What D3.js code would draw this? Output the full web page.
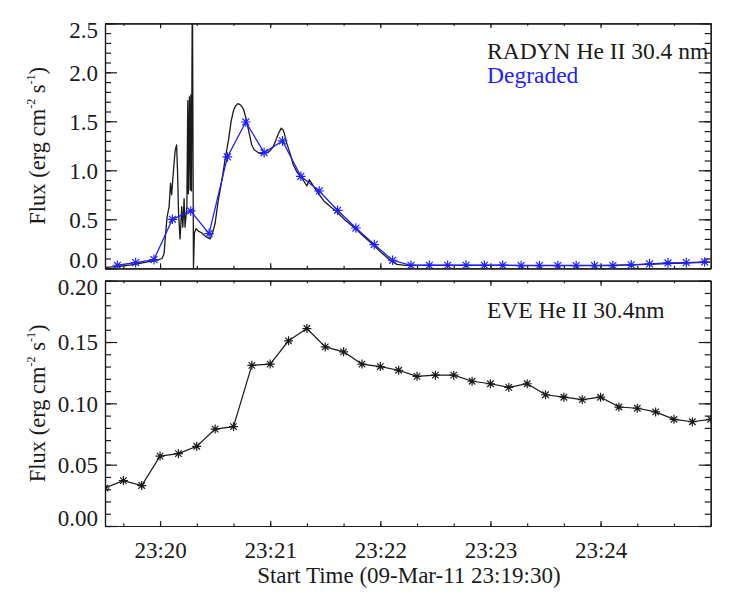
<!DOCTYPE html>
<html>
<head>
<meta charset="utf-8">
<script src="https://cdn.jsdelivr.net/npm/d3@7"></script>
<style>
  body { margin: 0; background: #fff; }
</style>
</head>
<body>
<div id="chart-area"></div>
<script>
// seconds after 23:19:30
const radynTime = [0, 8.2, 16.4, 24.5, 28.9, 31.1, 32.2, 33.0, 33.8, 34.6, 34.9, 35.7, 36.3, 37.1, 38.2, 39.0, 39.5,
  40.1, 40.9, 41.8, 42.4, 43.1, 43.6, 44.6, 45.1, 45.4, 46.0, 46.4, 46.8, 47.1, 47.6, 48.2, 48.7, 49.6, 50.9,
  52.8, 54.5, 56.2, 57.3, 58.9, 60.0, 61.6, 63.7, 65.5, 67.3, 68.7, 70.0, 71.2, 72.4, 73.6, 74.6, 75.5, 76.4,
  78.2, 80.0, 81.3, 82.8, 84.5, 86.4, 88.4, 90.0, 91.6, 92.7, 94.4, 96.0, 97.1, 97.8, 99.1, 100.9, 102.5,
  104.6, 107.3, 110.0, 111.3, 112.9, 114.5, 119.1, 122.7, 126.4, 130.9, 136.4, 141.3, 146.4, 151.1, 155.5,
  159.1, 163.6, 166.4, 188.2, 215.5, 242.7, 270.0, 286.4, 302.7, 319.1, 330];
const radynFlux = [0.01, 0.02, 0.04, 0.07, 0.085, 0.10, 0.15, 0.35, 0.52, 0.60, 0.62, 0.87, 0.75, 0.95, 1.20, 1.26, 1.00,
  0.55, 0.30, 0.63, 0.42, 0.71, 0.42, 0.63, 1.71, 0.76, 1.75, 0.80, 1.77, 0.79, 3.00, 0.00, 0.36, 0.405, 0.38,
  0.36, 0.33, 0.31, 0.30, 0.38, 0.46, 0.68, 0.90, 1.12, 1.31, 1.50, 1.61, 1.66, 1.68, 1.67, 1.65, 1.62, 1.56,
  1.41, 1.255, 1.21, 1.19, 1.17, 1.17, 1.18, 1.20, 1.24, 1.29, 1.37, 1.43, 1.41, 1.37, 1.27, 1.17, 1.06,
  0.98, 0.92, 0.84, 0.905, 0.86, 0.81, 0.69, 0.63, 0.575, 0.49, 0.405, 0.32, 0.235, 0.15, 0.08,
  0.04, 0.03, 0.03, 0.03, 0.03, 0.03, 0.03, 0.035, 0.045, 0.055, 0.062];

const degradedTime = [6.7, 16.7, 26.7, 36.7, 46.7, 56.7, 66.7, 76.7, 86.7, 96.7, 106.7, 116.7, 126.7, 136.7, 146.7,
  156.7, 166.7, 176.7, 186.7, 196.7, 206.7, 216.7, 226.7, 236.7, 246.7, 256.7, 266.7, 276.7, 286.7, 296.7,
  306.7, 316.7, 326.7];
const degradedFlux = [0.031, 0.058, 0.089, 0.50, 0.585, 0.354, 1.136, 1.493, 1.18, 1.30, 0.939, 0.789, 0.592, 0.411,
  0.242, 0.082, 0.031, 0.031, 0.031, 0.031, 0.031, 0.031, 0.028, 0.028, 0.028, 0.028, 0.028, 0.028, 0.035,
  0.045, 0.055, 0.058, 0.065];

const eveTime = [0, 10, 20, 30, 40, 50, 60, 70, 80, 90, 100, 110, 120, 130, 140, 150, 160, 170, 180, 190, 200,
  210, 220, 230, 240, 250, 260, 270, 280, 290, 300, 310, 320, 330];
const eveFlux = [0.031, 0.037, 0.033, 0.057, 0.059, 0.065, 0.079, 0.081, 0.131, 0.132, 0.151, 0.161, 0.146, 0.142,
  0.132, 0.130, 0.127, 0.122, 0.123, 0.123, 0.118, 0.116, 0.113, 0.116, 0.107, 0.105, 0.103, 0.105, 0.097,
  0.096, 0.093, 0.087, 0.085, 0.087];

const xTickValues = [30, 90, 150, 210, 270];
const xTickLabels = ["23:20", "23:21", "23:22", "23:23", "23:24"];
const yTicksTop = [0, 0.5, 1.0, 1.5, 2.0, 2.5];
const yTicksBottom = [0, 0.05, 0.10, 0.15, 0.20];

const svgWidth = 747, svgHeight = 598;
const plotLeft = 105, plotRight = 710.7;
const font = "'Liberation Serif', 'DejaVu Serif', serif";
const ink = "#1a1a1a";
const blue = "#1f1fff";

const svg = d3.select("#chart-area")
  .append("svg")
    .attr("width", svgWidth)
    .attr("height", svgHeight);

const x = d3.scaleLinear().domain([0, 330]).range([plotLeft, plotRight]);
const yTop = d3.scaleLinear().domain([0, 2.5]).range([268.3, 23.3]);
const yBot = d3.scaleLinear().domain([0, 0.2]).range([526, 280.7]);

const star = (r) => {
  const d = r * 0.72;
  return `M${-r},0H${r}M0,${-r}V${r}M${-d},${-d}L${d},${d}M${-d},${d}L${d},${-d}`;
};

function drawPanel(y, yTicks, yFmt, yMinorStep, showLabels, id) {
  const [y0, y1] = y.range();
  const g = svg.append("g");

  svg.append("clipPath").attr("id", id)
    .append("rect")
      .attr("x", plotLeft).attr("y", y1)
      .attr("width", plotRight - plotLeft).attr("height", y0 - y1);

  const yMinor = d3.range(y.domain()[0], y.domain()[1] + yMinorStep / 2, yMinorStep);
  const xMinor = d3.range(10, 331, 20);

  const styleAxis = (sel) => {
    sel.attr("font-family", font).attr("font-size", 23);
    sel.selectAll("path, line").attr("stroke", ink).attr("stroke-width", 1.2);
    sel.selectAll("text").attr("fill", ink);
  };

  // minor ticks
  g.append("g").attr("transform", `translate(0,${y0})`)
    .call(d3.axisBottom(x).tickValues(xMinor).tickSize(-2.5).tickSizeOuter(0).tickFormat(""))
    .call(styleAxis);
  g.append("g").attr("transform", `translate(0,${y1})`)
    .call(d3.axisTop(x).tickValues(xMinor).tickSize(-2.5).tickSizeOuter(0).tickFormat(""))
    .call(styleAxis);
  g.append("g").attr("transform", `translate(${plotLeft},0)`)
    .call(d3.axisLeft(y).tickValues(yMinor).tickSize(-6).tickSizeOuter(0).tickFormat(""))
    .call(styleAxis);
  g.append("g").attr("transform", `translate(${plotRight},0)`)
    .call(d3.axisRight(y).tickValues(yMinor).tickSize(-6).tickSizeOuter(0).tickFormat(""))
    .call(styleAxis);

  // major ticks
  g.append("g").attr("transform", `translate(0,${y0})`)
    .call(d3.axisBottom(x).tickValues(xTickValues).tickSize(-5).tickSizeOuter(0).tickPadding(16)
      .tickFormat((d, i) => showLabels ? xTickLabels[i] : ""))
    .call(styleAxis);
  g.append("g").attr("transform", `translate(0,${y1})`)
    .call(d3.axisTop(x).tickValues(xTickValues).tickSize(-5).tickSizeOuter(0).tickFormat(""))
    .call(styleAxis);
  const leftAxis = g.append("g").attr("transform", `translate(${plotLeft},0)`)
    .call(d3.axisLeft(y).tickValues(yTicks).tickSize(-12).tickSizeOuter(0).tickPadding(7).tickFormat(yFmt))
    .call(styleAxis);
  g.append("g").attr("transform", `translate(${plotRight},0)`)
    .call(d3.axisRight(y).tickValues(yTicks).tickSize(-12).tickSizeOuter(0).tickFormat(""))
    .call(styleAxis);

  // end labels sit inside the axis span
  const lo = y.domain()[0], hi = y.domain()[1];
  leftAxis.selectAll(".tick text")
    .attr("dy", (d) => d === hi ? "0.6em" : d === lo ? "-0.02em" : "0.34em");

  svg.append("text")
    .attr("transform", `translate(45,${(y0 + y1) / 2}) rotate(-90)`)
    .attr("text-anchor", "middle")
    .attr("font-family", font)
    .attr("font-size", 22.5)
    .attr("fill", ink)
    .call((t) => {
      t.append("tspan").text("Flux (erg cm");
      t.append("tspan").text("-2").attr("font-size", 12).attr("dy", -10);
      t.append("tspan").text(" s").attr("dy", 10);
      t.append("tspan").text("-1").attr("font-size", 12).attr("dy", -10);
      t.append("tspan").text(")").attr("dy", 10);
    });

  return svg.append("g").attr("clip-path", `url(#${id})`);
}

// top panel
const topPlot = drawPanel(yTop, yTicksTop, d3.format(".1f"), 0.1, false, "clipTop");

topPlot.append("path")
  .datum(radynTime.map((t, i) => [t, radynFlux[i]]))
  .attr("fill", "none")
  .attr("stroke", ink)
  .attr("stroke-width", 1.3)
  .attr("stroke-linejoin", "round")
  .attr("d", d3.line().x((d) => x(d[0])).y((d) => yTop(d[1])));

const degraded = degradedTime.map((t, i) => [t, degradedFlux[i]]);
topPlot.append("path")
  .datum(degraded)
  .attr("fill", "none")
  .attr("stroke", blue)
  .attr("stroke-width", 1.3)
  .attr("d", d3.line().x((d) => x(d[0])).y((d) => yTop(d[1])));
topPlot.selectAll(".mk")
  .data(degraded)
  .enter()
  .append("path")
    .attr("transform", (d) => `translate(${x(d[0])},${yTop(d[1])})`)
    .attr("d", star(4.8))
    .attr("stroke", blue)
    .attr("stroke-width", 1.2)
    .attr("fill", "none");

svg.append("text")
  .text("RADYN He II 30.4 nm")
  .attr("x", 487).attr("y", 59)
  .attr("font-family", font).attr("font-size", 23.5).attr("fill", ink);
svg.append("text")
  .text("Degraded")
  .attr("x", 487).attr("y", 82.5)
  .attr("font-family", font).attr("font-size", 23.5).attr("fill", blue);

// bottom panel
const botPlot = drawPanel(yBot, yTicksBottom, d3.format(".2f"), 0.01, true, "clipBot");

const eve = eveTime.map((t, i) => [t, eveFlux[i]]);
botPlot.append("path")
  .datum(eve)
  .attr("fill", "none")
  .attr("stroke", ink)
  .attr("stroke-width", 1.2)
  .attr("d", d3.line().x((d) => x(d[0])).y((d) => yBot(d[1])));
botPlot.selectAll(".mk")
  .data(eve)
  .enter()
  .append("path")
    .attr("transform", (d) => `translate(${x(d[0])},${yBot(d[1])})`)
    .attr("d", star(4.5))
    .attr("stroke", ink)
    .attr("stroke-width", 1.2)
    .attr("fill", "none");

svg.append("text")
  .text("EVE He II 30.4nm")
  .attr("x", 487).attr("y", 318)
  .attr("font-family", font).attr("font-size", 23.5).attr("fill", ink);

svg.append("text")
  .text("Start Time (09-Mar-11 23:19:30)")
  .attr("x", (plotLeft + plotRight) / 2 + 1)
  .attr("y", 583)
  .attr("text-anchor", "middle")
  .attr("font-family", font).attr("font-size", 23).attr("fill", ink);
</script>
</body>
</html>
